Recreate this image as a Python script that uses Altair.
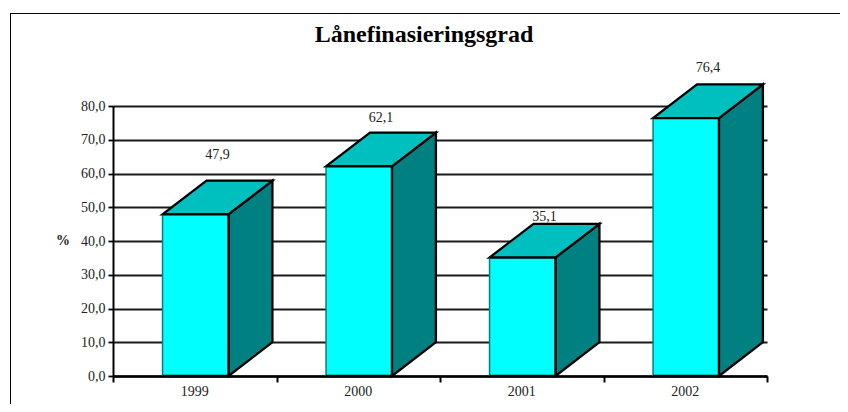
import altair as alt
import pandas as pd

years = ["1999", "2000", "2001", "2002"]
values = [47.9, 62.1, 35.1, 76.4]
value_labels = ["47,9", "62,1", "35,1", "76,4"]
label_levels = [65.5, 76.4, 47.0, 91.3]
slot_index = [0, 1, 2, 3]
slot_edges = [0, 1, 2, 3, 4]
y_ticks = [0, 10, 20, 30, 40, 50, 60, 70, 80]
BAR_START, BAR_END = 0.303, 0.706
DX, DY = 0.269, 10.0
FONT = "Liberation Serif"

x_scale = alt.Scale(domain=[0, 4], nice=False, zero=False)
y_scale = alt.Scale(domain=[0, 80], nice=False, zero=False)

rows, side, top = [], [], []
for i, y, v, lab, lev in zip(slot_index, years, values, value_labels, label_levels):
    x0, x1 = i + BAR_START, i + BAR_END
    rows.append(dict(year=y, v=v, x0=x0, x1=x1, zero=0, label=lab, lev=lev,
                     lx=(x0 + x1) / 2 + DX / 2, cx=i + 0.5))
    for t in (0, 1):
        side.append(dict(year=y, x=x1 + DX * t, y=DY * t, y2=v + DY * t))
        top.append(dict(year=y, x=x0 + DX * t, x2=x1 + DX * t, y=v + DY * t))
bars = pd.DataFrame(rows)
side = pd.DataFrame(side)
top = pd.DataFrame(top)

label_expr = "replace(format(datum.value, '.1f'), '.', ',')"
y_axis = alt.Axis(values=y_ticks, labelExpr=label_expr, grid=True, gridColor="#1a1a1a",
                  gridWidth=1.8, domainColor="black", domainWidth=2, tickColor="black",
                  tickWidth=1.8, tickSize=5, labelFont=FONT, labelFontSize=14,
                  labelColor="#222222", labelPadding=3, labelOverlap=False)
x_axis = alt.Axis(values=slot_edges, labels=False, grid=False, domainColor="black",
                  domainWidth=2.5, tickColor="black", tickWidth=2, tickSize=6)

X = lambda f: alt.X(f, type="quantitative", scale=x_scale, title=None, axis=x_axis)
Y = lambda f: alt.Y(f, type="quantitative", scale=y_scale, title=None, axis=y_axis)

side_l = alt.Chart(side).mark_area(color="#008080", stroke="black", strokeWidth=2.3, orient="vertical").encode(
    x=X("x"), y=Y("y"), y2="y2", detail="year:N")
top_l = alt.Chart(top).mark_area(color="#00BFBF", stroke="black", strokeWidth=2.3, orient="horizontal").encode(
    x=X("x"), x2="x2", y=Y("y"), detail="year:N")
front = alt.Chart(bars).mark_rect(color="#00FFFF").encode(x=X("x0"), x2="x1", y=Y("zero"), y2="v")
left_e = alt.Chart(bars).mark_rule(color="#008080", strokeWidth=1.5).encode(x=X("x0"), y=Y("zero"), y2="v")
right_e = alt.Chart(bars).mark_rule(color="black", strokeWidth=2.3).encode(x=X("x1"), y=Y("zero"), y2="v")
top_e = alt.Chart(bars).mark_rule(color="black", strokeWidth=2.3).encode(x=X("x0"), x2="x1", y=Y("v"))
base_l = alt.Chart(bars).mark_rule(color="black", strokeWidth=2.5).encode(x=X("x0"), x2="x1", y=Y("zero"))

value_text = alt.Chart(bars).mark_text(font=FONT, fontSize=14, color="#222222").encode(
    x=X("lx"), y=Y("lev"), text="label:N")
year_text = alt.Chart(bars).mark_text(font=FONT, fontSize=14, color="#222222", dy=16).encode(
    x=X("cx"), y=Y("zero"), text="year:N")

title_t = alt.Chart(pd.DataFrame({"t": ["Lånefinasieringsgrad"]})).mark_text(
    font=FONT, fontSize=24, fontWeight="bold", color="black", baseline="alphabetic"
).encode(x=alt.value(311), y=alt.value(-64), text="t:N")
unit_t = alt.Chart(pd.DataFrame({"t": ["%"]})).mark_text(
    font=FONT, fontSize=14, fontWeight="bold", color="#222222"
).encode(x=alt.value(-50), y=alt.value(135), text="t:N")

frame_left = alt.Chart(bars).mark_rule(color="black", strokeWidth=1).encode(
    x=alt.value(-102.5), y=alt.value(-92.5), y2=alt.value(298))
frame_top = alt.Chart(bars).mark_rule(color="black", strokeWidth=1).encode(
    x=alt.value(-102.5), x2=alt.value(735), y=alt.value(-92.5))

chart = alt.layer(
    side_l, top_l, front, left_e, right_e, top_e, base_l, value_text, year_text,
    title_t, unit_t, frame_left, frame_top
).properties(
    width=654, height=270,
    padding={"left": 105, "top": 98, "right": 73, "bottom": 28},
    autosize=alt.AutoSizeParams(type="none"),
    background="white",
).configure_view(stroke=None)

chart.save("out.html", embed_options={"renderer": "svg", "actions": False})
